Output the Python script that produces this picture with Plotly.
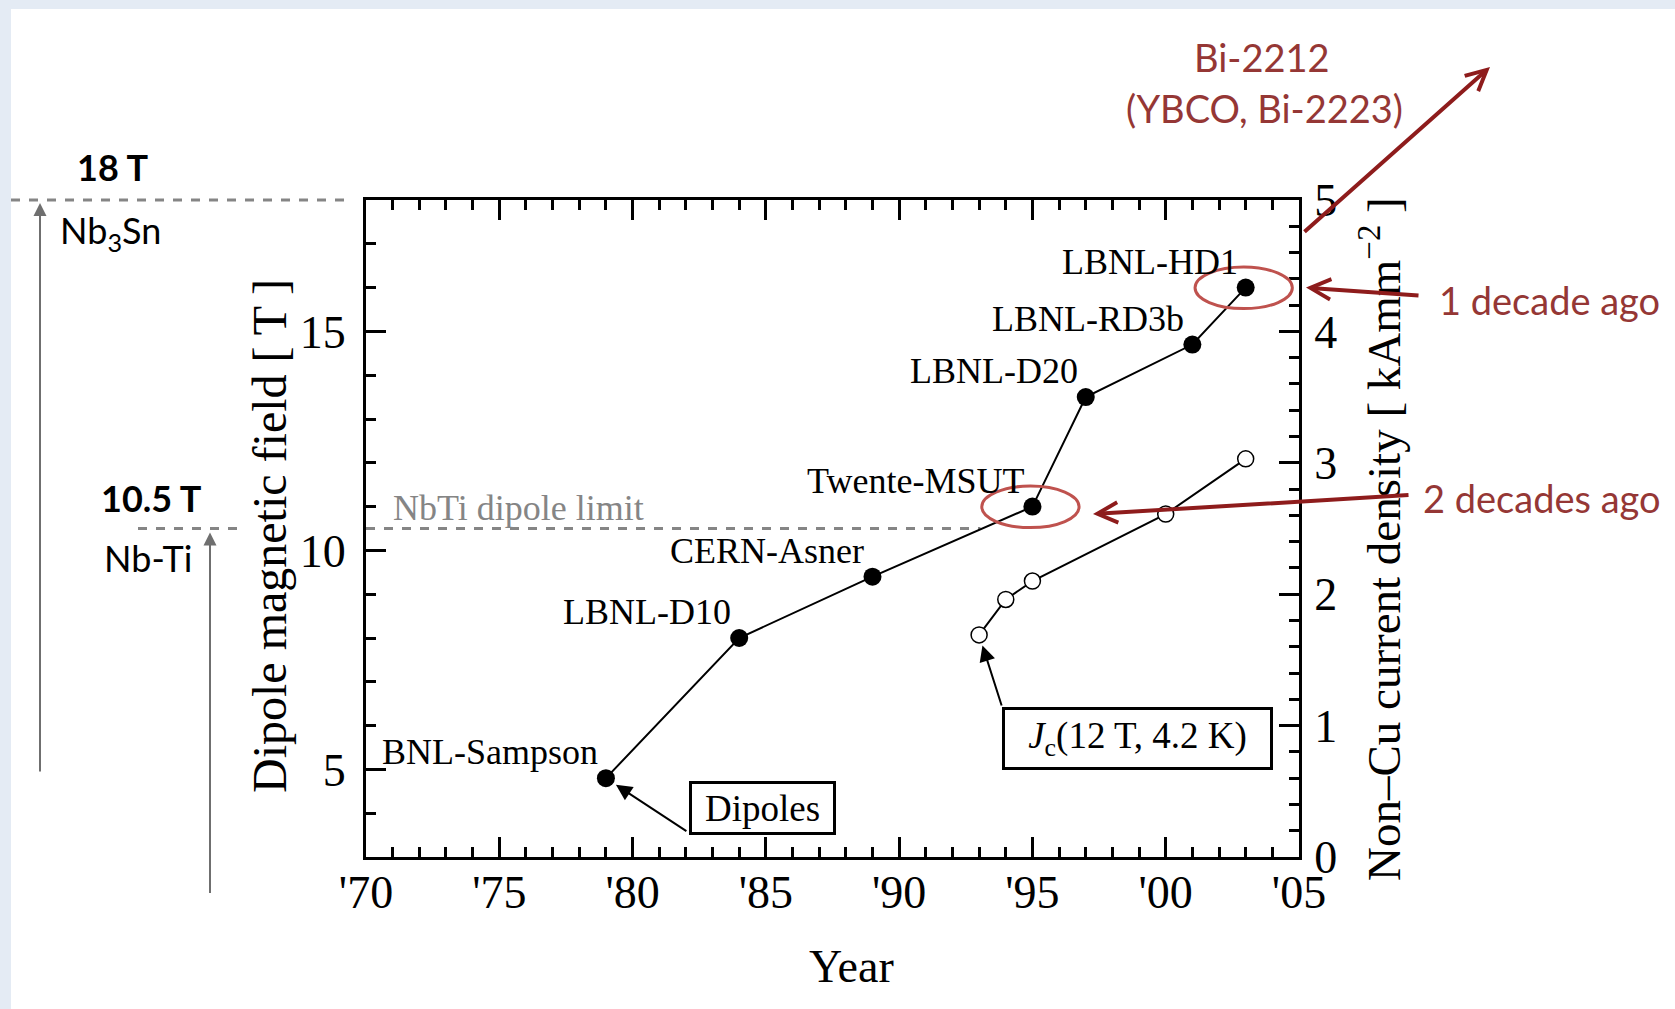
import plotly.graph_objects as go

# ---------------- data ----------------
dipole_names = ["BNL-Sampson", "LBNL-D10", "CERN-Asner", "Twente-MSUT",
                "LBNL-D20", "LBNL-RD3b", "LBNL-HD1"]
dipole_years = [1979, 1984, 1989, 1995, 1997, 2001, 2003]
dipole_field = [4.8, 8.0, 9.4, 11.0, 13.5, 14.7, 16.0]        # T

jc_years = [1993, 1994, 1995, 2000, 2003]
jc_density = [1.69, 1.96, 2.10, 2.61, 3.03]                   # kA/mm^2 at 12 T, 4.2 K

nbti_limit_T = 10.5
nb3sn_limit_T = 18.0

year_ticks = [1970, 1975, 1980, 1985, 1990, 1995, 2000, 2005]
year_labels = ["'70", "'75", "'80", "'85", "'90", "'95", "'00", "'05"]

# ---------------- layout constants ----------------
W, H = 1675, 1009
L, R, T, B = 366, 1299, 200, 857          # plot-area edges (px)
X_RANGE = [1970, 2005]
Y_RANGE = [3, 18]
JC_RANGE = [0, 5]

SERIF = "Liberation Serif, Times New Roman, serif"
SANS = "Lato, Carlito, Calibri, sans-serif"
GRAY = "#858585"
ARROW_RED = "#8e1c1c"
TEXT_RED = "#953735"
RING_RED = "#bf524e"
EDGE_BLUE = "#e4ebf4"


def px(x):
    """pixel x -> paper x"""
    return (x - L) / (R - L)


def py(y):
    """pixel y -> paper y"""
    return (B - y) / (B - T)


def field_paper(v):
    return (v - Y_RANGE[0]) / (Y_RANGE[1] - Y_RANGE[0])


def label(x, y, text, size, family=SERIF, color="black", xanchor="center", **kw):
    """free text placed at pixel position (x, y)"""
    d = dict(x=px(x), y=py(y), xref="paper", yref="paper", text=text,
             showarrow=False, xanchor=xanchor, yanchor="middle",
             font=dict(family=family, size=size, color=color))
    d.update(kw)
    return d


def pointer(x, y, ax, ay, color, width, head, size, standoff=0, xref="paper", yref="paper"):
    """arrow from a pixel offset (ax, ay) to the point (x, y)"""
    return dict(x=x, y=y, xref=xref, yref=yref, text="", showarrow=True,
                axref="pixel", ayref="pixel", ax=ax, ay=ay, standoff=standoff,
                xanchor="center", yanchor="middle",
                arrowhead=head, arrowsize=size, arrowwidth=width, arrowcolor=color)


fig = go.Figure()

# record dipole fields
fig.add_trace(go.Scatter(
    x=dipole_years, y=dipole_field, mode="lines+markers",
    line=dict(color="black", width=2),
    marker=dict(size=18, color="black"),
    showlegend=False, cliponaxis=False,
))

# Nb3Sn critical current density (right axis)
fig.add_trace(go.Scatter(
    x=jc_years, y=jc_density, yaxis="y2", mode="lines+markers",
    line=dict(color="black", width=2),
    marker=dict(size=16, color="white", line=dict(color="black", width=1.5)),
    showlegend=False, cliponaxis=False,
))

shapes = []
# light edge bands of the page
shapes.append(dict(type="rect", xref="paper", yref="paper",
                   x0=px(0), x1=px(W), y0=py(9), y1=py(0),
                   fillcolor=EDGE_BLUE, line=dict(width=0), layer="below"))
shapes.append(dict(type="rect", xref="paper", yref="paper",
                   x0=px(0), x1=px(11), y0=py(H), y1=py(0),
                   fillcolor=EDGE_BLUE, line=dict(width=0), layer="below"))

# NbTi dipole limit inside the plot
shapes.append(dict(type="line", xref="x", yref="y",
                   x0=X_RANGE[0], x1=1993.05, y0=nbti_limit_T, y1=nbti_limit_T,
                   line=dict(color=GRAY, width=3, dash="dash"), layer="below"))
# level markers to the left of the plot
shapes.append(dict(type="line", xref="paper", yref="paper",
                   x0=px(11), x1=px(353),
                   y0=field_paper(nb3sn_limit_T), y1=field_paper(nb3sn_limit_T),
                   line=dict(color=GRAY, width=3, dash="dash")))
shapes.append(dict(type="line", xref="paper", yref="paper",
                   x0=px(138), x1=px(238),
                   y0=field_paper(nbti_limit_T), y1=field_paper(nbti_limit_T),
                   line=dict(color=GRAY, width=3, dash="dash")))

# rings around the highlighted magnets
for idx in (3, 6):
    cx, cy = dipole_years[idx], dipole_field[idx]
    shapes.append(dict(type="circle", xref="x", yref="y",
                       x0=cx - 1.9, x1=cx + 1.75, y0=cy - 0.48, y1=cy + 0.47,
                       line=dict(color=RING_RED, width=3), layer="above"))

annotations = []

# magnet names
for name, yr, f in zip(dipole_names, dipole_years, dipole_field):
    annotations.append(dict(x=yr, y=f, xref="x", yref="y", text=name,
                            showarrow=False, xanchor="right", yanchor="middle",
                            xshift=-6, yshift=26,
                            font=dict(family=SERIF, size=36, color="black")))

annotations.append(label(391, 508, "NbTi dipole limit", 36, color=GRAY, xanchor="left"))

# boxed legends with pointers
annotations.append(label(762.5, 808, "Dipoles", 37,
                         width=139, height=46, borderpad=1, borderwidth=3,
                         bordercolor="black", bgcolor="white"))
annotations.append(pointer(dipole_years[0], dipole_field[0], 82, 54, "black", 2, 2, 1.6,
                           standoff=12, xref="x", yref="y"))

annotations.append(label(1137.5, 738.5, "<i>J</i><sub>c</sub>(12 T, 4.2 K)", 37,
                         width=257, height=49, borderpad=4, borderwidth=3,
                         bordercolor="black", bgcolor="white"))
annotations.append(pointer(jc_years[0], jc_density[0], 23, 72, "black", 2, 2, 1.6,
                           standoff=11, xref="x", yref="y2"))

# axis titles
annotations.append(label(851, 967, "Year", 46))
annotations.append(label(269, 536, "Dipole magnetic field [ T ]", 48, textangle=-90))
annotations.append(label(1380, 539, "Non–Cu current density [ kAmm<sup>−2</sup> ]", 47,
                         textangle=-90))

# conductor levels on the left
annotations.append(label(112, 167, "<b>18 T</b>", 36, family=SANS))
annotations.append(label(110, 232, "Nb<sub>3</sub>Sn", 36, family=SANS))
annotations.append(label(151, 498, "<b>10.5 T</b>", 36, family=SANS))
annotations.append(label(148, 558, "Nb-Ti", 36, family=SANS))
annotations.append(pointer(px(40), nb3sn_limit_T, 0, 573, "#6f6f6f", 2, 2, 1.3,
                           standoff=3, yref="y"))
annotations.append(pointer(px(210), nbti_limit_T, 0, 366, "#6f6f6f", 2, 2, 1.3,
                           standoff=4, yref="y"))

# HTS outlook and time markers
annotations.append(label(1262, 57, "Bi-2212", 38, family=SANS, color=TEXT_RED))
annotations.append(label(1264, 108, "(YBCO, Bi-2223)", 38, family=SANS, color=TEXT_RED))
annotations.append(pointer(px(1490), py(67), -187, 166, ARROW_RED, 4, 5, 1))

annotations.append(label(1437, 300, "1 decade ago", 38, family=SANS, color=TEXT_RED,
                         xanchor="left"))
annotations.append(pointer(px(1306), dipole_field[-1], 114, 8, ARROW_RED, 4, 5, 1,
                           yref="y"))

annotations.append(label(1421, 498, "2 decades ago", 38, family=SANS, color=TEXT_RED,
                         xanchor="left"))
annotations.append(pointer(px(1093), py(514), 317, -19, ARROW_RED, 4, 5, 1))

axis_common = dict(showline=True, linecolor="black", linewidth=3,
                   ticks="inside", tickcolor="black", tickwidth=3, ticklen=20,
                   showgrid=False, zeroline=False,
                   tickfont=dict(family=SERIF, size=46, color="black"))

fig.update_layout(
    width=W, height=H, autosize=False,
    margin=dict(l=L, r=W - R, t=T, b=H - B, pad=0),
    paper_bgcolor="white", plot_bgcolor="rgba(0,0,0,0)",
    showlegend=False,
    xaxis=dict(range=X_RANGE, tickmode="array", tickvals=year_ticks,
               ticktext=year_labels, mirror="ticks", ticklabelstandoff=-7,
               minor=dict(tickmode="linear", tick0=1970, dtick=1, ticks="inside",
                          ticklen=10, tickwidth=2.5, tickcolor="black"),
               **axis_common),
    yaxis=dict(range=Y_RANGE, tickmode="linear", tick0=0, dtick=5,
               ticklabelstandoff=8,
               minor=dict(tickmode="linear", tick0=0, dtick=1, ticks="inside",
                          ticklen=10, tickwidth=2.5, tickcolor="black"),
               **axis_common),
    yaxis2=dict(range=JC_RANGE, overlaying="y", side="right",
                tickmode="linear", tick0=0, dtick=1, ticklabelstandoff=3,
                minor=dict(tickmode="linear", tick0=0, dtick=0.2, ticks="inside",
                           ticklen=10, tickwidth=2.5, tickcolor="black"),
                **axis_common),
    shapes=shapes,
    annotations=annotations,
)

fig.write_html("out.html")
